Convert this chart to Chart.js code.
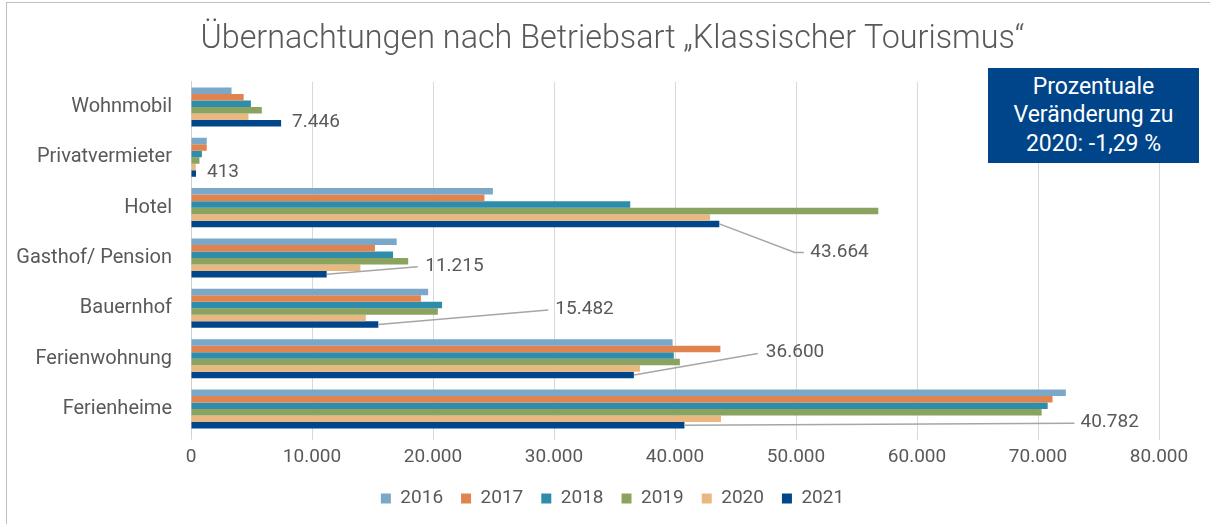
<!DOCTYPE html>
<html>
<head>
<meta charset="utf-8">
<script src="https://cdn.jsdelivr.net/npm/chart.js@4.4.1/dist/chart.umd.min.js"></script>
<style>
  html, body { margin: 0; padding: 0; background: #ffffff; }
  #wrap { position: relative; width: 1210px; height: 524px; overflow: hidden; }
  #frame { position: absolute; left: 6px; top: 2px; width: 1300px; height: 600px; border-left: 1px solid #bfbfbf; border-top: 1px solid #bfbfbf; box-sizing: border-box; }
  #note { position: absolute; left: 988px; top: 68px; width: 211px; height: 95px; background: #004489; color: #ffffff;
          font-family: Roboto, "Open Sans", sans-serif; font-size: 23px; line-height: 28.5px; text-align: center;
          display: flex; flex-direction: column; justify-content: center; }
  canvas { position: absolute; left: 0; top: 0; }
</style>
</head>
<body>
<div id="wrap">
  <div id="frame"></div>
  <canvas id="c" width="1210" height="524"></canvas>
  <div id="note"><div>Prozentuale</div><div>Veränderung zu</div><div>2020: -1,29 %</div></div>
</div>
<script>
const titleText = 'Übernachtungen nach Betriebsart „Klassischer Tourismus“';
const categories = ['Wohnmobil', 'Privatvermieter', 'Hotel', 'Gasthof/ Pension', 'Bauernhof', 'Ferienwohnung', 'Ferienheime'];
const years = ['2016', '2017', '2018', '2019', '2020', '2021'];
const values2016 = [3350, 1300, 24950, 17000, 19600, 39800, 72300];
const values2017 = [4350, 1300, 24250, 15200, 19000, 43750, 71200];
const values2018 = [4950, 900, 36300, 16700, 20750, 39900, 70800];
const values2019 = [5850, 700, 56800, 17950, 20400, 40400, 70300];
const values2020 = [4750, 390, 42900, 14000, 14450, 37100, 43800];
const values2021 = [7446, 413, 43664, 11215, 15482, 36600, 40782];
const xTicks = [0, 10000, 20000, 30000, 40000, 50000, 60000, 70000, 80000];
const colors = ['#7ba7c8', '#e0834f', '#2e8dab', '#8aa35f', '#e8b880', '#00468a'];

// label placement for 2021 values, in pixels relative to the bar end (style only)
const labelPlacement = [
  { text: [11, -1] },
  { text: [11, -1] },
  { line: [[75.5, 28.5], [84.5, 28.5]], text: [91, 28] },
  { line: [[91, -7.5]], text: [98.5, -8] },
  { line: [[170, -14.5]], text: [177, -15] },
  { line: [[124, -21.5]], text: [132, -23] },
  { line: [[390, -2]], text: [396, -3] }
];

function fmt(v) {
  return String(Math.round(v)).replace(/\B(?=(\d{3})+(?!\d))/g, '.');
}

const FONT = 'Roboto';
const TXT = '#595959';
const BOX_SHIFT = 31;   // horizontal centring of title and legend
const LEGEND_UP = 4;

const valueLabels = {
  id: 'valueLabels',
  afterLayout(chart) {
    if (chart.titleBlock) { chart.titleBlock.left += BOX_SHIFT; chart.titleBlock.right += BOX_SHIFT; }
    if (chart.legend) {
      chart.legend.left += BOX_SHIFT; chart.legend.right += BOX_SHIFT;
      chart.legend.top -= LEGEND_UP; chart.legend.bottom -= LEGEND_UP;
    }
  },
  afterDatasetsDraw(chart) {
    const meta = chart.getDatasetMeta(5);
    const ctx = chart.ctx;
    ctx.save();
    meta.data.forEach((bar, i) => {
      const p = labelPlacement[i];
      const x0 = bar.x, y0 = bar.y;
      if (p.line) {
        ctx.beginPath();
        ctx.strokeStyle = '#a6a6a6';
        ctx.lineWidth = 1.5;
        ctx.moveTo(x0, y0);
        p.line.forEach(pt => ctx.lineTo(x0 + pt[0], y0 + pt[1]));
        ctx.stroke();
      }
      ctx.fillStyle = TXT;
      ctx.font = '19px ' + FONT;
      ctx.textAlign = 'left';
      ctx.textBaseline = 'middle';
      ctx.fillText(fmt(values2021[i]), x0 + p.text[0], y0 + p.text[1]);
    });
    ctx.restore();
  }
};

const seriesValues = [values2016, values2017, values2018, values2019, values2020, values2021];

new Chart(document.getElementById('c'), {
  type: 'bar',
  data: {
    labels: categories,
    datasets: years.map((y, k) => ({
      label: y,
      data: seriesValues[k],
      backgroundColor: colors[k],
      borderWidth: 0,
      categoryPercentage: 0.775,
      barPercentage: 1.0
    }))
  },
  options: {
    indexAxis: 'y',
    responsive: false,
    animation: false,
    devicePixelRatio: 1,
    layout: { padding: { left: 4, right: 51, top: 0, bottom: 2 } },
    plugins: {
      title: {
        display: true,
        text: titleText,
        color: TXT,
        font: { family: FONT, size: 32.3, weight: 300, lineHeight: 1.2 },
        padding: { top: 21, bottom: 22 }
      },
      legend: {
        position: 'bottom',
        labels: {
          color: TXT,
          font: { family: FONT, size: 19 },
          boxWidth: 10,
          boxHeight: 10,
          padding: 18
        }
      },
      tooltip: { enabled: false }
    },
    scales: {
      x: {
        min: 0,
        max: 80000,
        afterBuildTicks(scale) { scale.ticks = xTicks.map(v => ({ value: v })); },
        ticks: {
          color: TXT,
          font: { family: FONT, size: 19 },
          padding: 6,
          callback: v => fmt(v)
        },
        grid: { color: '#d9d9d9', lineWidth: 1, tickLength: 6, drawTicks: true },
        border: { display: false }
      },
      y: {
        afterFit(scale) { scale.width = 187; },
        ticks: {
          color: TXT,
          font: { family: FONT, size: 20 },
          padding: 11
        },
        grid: { display: false },
        border: { display: true, color: '#d0d0d0', width: 1 }
      }
    }
  },
  plugins: [valueLabels]
});
</script>
</body>
</html>
